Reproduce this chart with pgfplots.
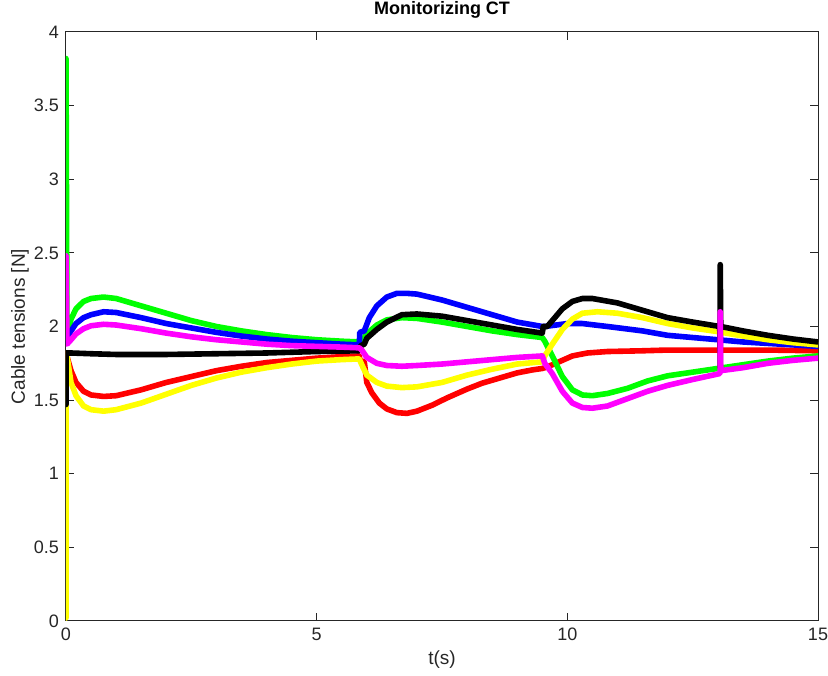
\documentclass[border=0pt]{standalone}
\usepackage{pgfplots}
\pgfplotsset{compat=1.18}
\usepackage{fontspec}
\setmainfont{Liberation Sans}
\definecolor{axgray}{rgb}{0.15,0.15,0.15}
\definecolor{cR}{rgb}{1,0,0}
\definecolor{cG}{rgb}{0,1,0}
\definecolor{cB}{rgb}{0,0,1}
\definecolor{cY}{rgb}{1,1,0}
\definecolor{cM}{rgb}{1,0,1}
\definecolor{cK}{rgb}{0,0,0}
\begin{document}
\begin{tikzpicture}
\begin{axis}[
  scale only axis, width=376pt, height=294.5pt,
  xmin=0, xmax=15, ymin=0, ymax=4,
  xtick={0,5,10,15}, ytick={0,0.5,...,4},
  tick align=inside, tick pos=both, major tick length=4pt,
  axis line style={axgray, line width=0.5pt},
  every tick/.style={axgray, line width=0.5pt},
  tick label style={font=\fontsize{9}{11}\selectfont, text=axgray},
  /pgf/number format/assume math mode=true,
  yticklabel style={/pgf/number format/fixed},
  title={\textbf{Monitorizing CT}},
  every axis title shift=0pt,
  title style={at={(axis description cs:0.5,1)}, anchor=center, yshift=11pt, font=\fontsize{9}{11}\selectfont},
  xlabel={t(s)}, ylabel={Cable tensions [N]},
  every axis x label/.style={at={(axis description cs:0.5,0)}, anchor=center, yshift=-19.5pt, font=\fontsize{9.5}{11}\selectfont, text=axgray},
  every axis y label/.style={at={(axis description cs:0,0.5)}, anchor=center, xshift=-23pt, rotate=90, font=\fontsize{9.5}{11}\selectfont, text=axgray},
  every axis plot/.append style={line width=2.8pt, line join=round, line cap=round, no marks},
  clip=true,
]
% red
\addplot[color=cR] coordinates {
(0,1.82)(0.1,1.70)(0.2,1.62)(0.35,1.56)(0.5,1.535)(0.75,1.525)(1.0,1.53)(1.5,1.57)(2,1.62)(2.5,1.66)(3,1.70)(3.5,1.73)(4,1.755)(4.5,1.77)(5,1.785)(5.5,1.795)(5.85,1.80)
(5.86,1.77)(5.95,1.76)(6.0,1.62)(6.1,1.55)(6.25,1.48)(6.4,1.44)(6.6,1.415)(6.8,1.41)(7.0,1.425)(7.3,1.465)(7.6,1.515)(8.0,1.575)(8.3,1.615)(8.6,1.645)(9.0,1.685)(9.3,1.705)(9.5,1.715)
(9.55,1.72)(9.7,1.74)(9.9,1.77)(10.1,1.80)(10.4,1.82)(10.8,1.83)(11.5,1.835)(12,1.84)(13,1.84)(14,1.84)(15,1.835)};
% green
\addplot[color=cG] coordinates {
(0,3.82)(0.02,1.92)(0.1,2.05)(0.2,2.12)(0.35,2.17)(0.5,2.19)(0.75,2.20)(1.0,2.19)(1.5,2.14)(2,2.09)(2.5,2.04)(3,2.00)(3.5,1.97)(4,1.945)(4.5,1.925)(5,1.91)(5.5,1.90)(5.85,1.895)
(5.9,1.90)(6.0,1.95)(6.2,2.01)(6.4,2.045)(6.7,2.06)(7.0,2.055)(7.5,2.03)(8,2.00)(8.5,1.97)(9,1.945)(9.5,1.925)
(9.55,1.90)(9.7,1.80)(9.9,1.66)(10.1,1.57)(10.3,1.535)(10.5,1.53)(10.8,1.545)(11.2,1.58)(11.6,1.63)(12,1.665)(12.5,1.69)(13,1.715)(13.5,1.74)(14,1.765)(14.5,1.785)(15,1.80)};
% blue
\addplot[color=cB] coordinates {
(0,1.90)(0.1,1.97)(0.2,2.02)(0.35,2.06)(0.5,2.08)(0.75,2.10)(1.0,2.095)(1.5,2.06)(2,2.02)(2.5,1.99)(3,1.96)(3.5,1.935)(4,1.915)(4.5,1.90)(5,1.89)(5.5,1.88)(5.85,1.875)
(5.86,1.96)(5.95,1.97)(6.05,2.06)(6.2,2.14)(6.4,2.20)(6.6,2.225)(6.8,2.225)(7.0,2.22)(7.5,2.18)(8,2.13)(8.5,2.08)(9,2.03)(9.5,2.00)
(9.55,2.00)(10,2.02)(10.3,2.02)(10.8,2.00)(11.5,1.97)(12,1.94)(12.5,1.925)(13,1.91)(13.5,1.895)(14,1.885)(14.5,1.875)(15,1.865)};
% yellow
\addplot[color=cY] coordinates {
(0,0.02)(0,1.82)(0.02,1.80)(0.1,1.62)(0.2,1.53)(0.35,1.46)(0.5,1.435)(0.75,1.425)(1.0,1.435)(1.5,1.48)(2,1.54)(2.5,1.60)(3,1.65)(3.5,1.69)(4,1.72)(4.5,1.745)(5,1.765)(5.5,1.775)(5.85,1.78)
(5.9,1.74)(6.0,1.67)(6.2,1.62)(6.4,1.595)(6.7,1.585)(7.0,1.59)(7.5,1.62)(8,1.67)(8.5,1.71)(9,1.745)(9.5,1.76)
(9.55,1.80)(9.7,1.88)(9.9,1.98)(10.1,2.05)(10.3,2.09)(10.6,2.10)(11,2.09)(11.5,2.06)(12,2.02)(12.5,1.99)(13,1.965)(13.5,1.935)(14,1.91)(14.5,1.89)(15,1.875)};
% black
\addplot[color=cK] coordinates {
(0,1.47)(0,1.82)(0.1,1.82)(0.5,1.815)(1,1.81)(2,1.81)(3,1.815)(4,1.82)(5,1.83)(5.85,1.835)
(5.88,1.87)(5.95,1.88)(6.0,1.92)(6.2,1.98)(6.4,2.03)(6.7,2.08)(7.0,2.085)(7.5,2.07)(8,2.04)(8.5,2.01)(9,1.98)(9.5,1.955)
(9.52,2.00)(9.6,2.00)(9.7,2.04)(9.9,2.12)(10.1,2.17)(10.3,2.19)(10.5,2.19)(11,2.16)(11.5,2.11)(12,2.06)(12.5,2.03)(13.04,2.00)
(13.05,1.72)(13.05,2.42)(13.06,2.0)(13.5,1.97)(14,1.94)(14.5,1.915)(15,1.895)};
% magenta
\addplot[color=cM] coordinates {
(0,2.48)(0.02,1.88)(0.1,1.91)(0.2,1.95)(0.35,1.985)(0.5,2.005)(0.75,2.015)(1,2.01)(1.5,1.985)(2,1.955)(2.5,1.93)(3,1.91)(3.5,1.895)(4,1.88)(4.5,1.87)(5,1.865)(5.5,1.86)(5.85,1.855)
(5.9,1.84)(6.0,1.79)(6.2,1.75)(6.4,1.735)(6.7,1.73)(7.0,1.735)(7.5,1.745)(8,1.76)(8.5,1.775)(9,1.79)(9.5,1.80)
(9.55,1.75)(9.7,1.68)(9.9,1.56)(10.1,1.48)(10.3,1.45)(10.5,1.445)(10.8,1.46)(11.2,1.51)(11.6,1.56)(12,1.60)(12.5,1.64)(13.04,1.68)
(13.05,1.70)(13.05,2.10)(13.06,1.70)(13.5,1.72)(14,1.75)(14.5,1.77)(15,1.785)};
\path (rel axis cs:0,0) coordinate (SW);
\path (rel axis cs:1,1) coordinate (NE);
\end{axis}
\pgfresetboundingbox
\path ([shift={(-33pt,-27.5pt)}]SW) rectangle ([shift={(5pt,16pt)}]NE);
\end{tikzpicture}
\end{document}
